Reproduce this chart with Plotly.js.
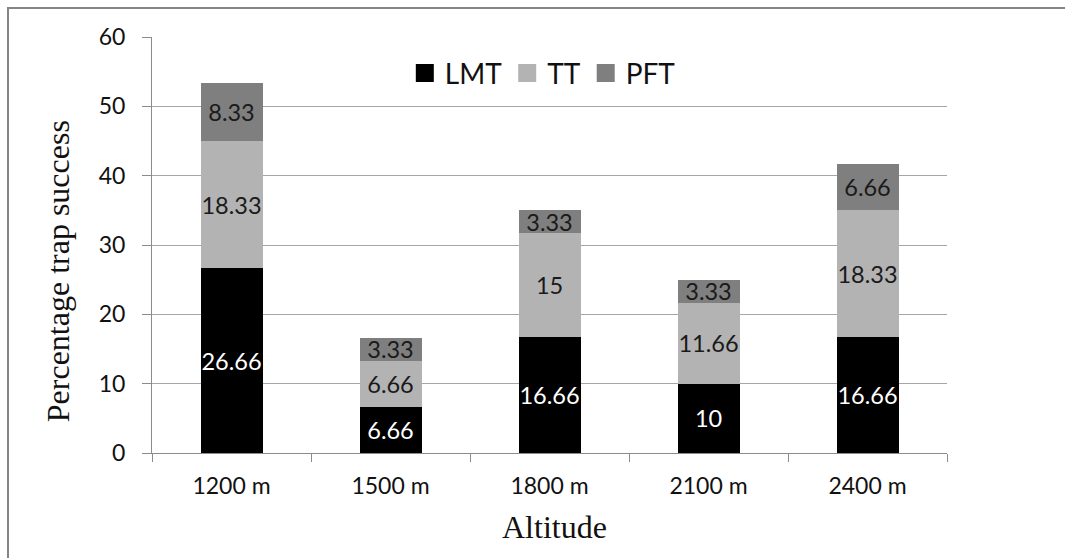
<!DOCTYPE html>
<html>
<head>
<meta charset="utf-8">
<script src="https://cdn.plot.ly/plotly-3.0.1.min.js"></script>
<style>
  html, body { margin: 0; padding: 0; background: #fff; overflow: hidden; }
  #wrap { position: relative; width: 1065px; height: 558px; overflow: hidden; }
  #chart { width: 1065px; height: 558px; }
  #frame { position: absolute; left: 7px; top: 7px; width: 1058px; height: 551px;
           border-top: 2px solid #858585; border-left: 2px solid #858585; box-sizing: border-box; pointer-events: none; }
</style>
</head>
<body>
<div id="wrap">
  <div id="chart"></div>
  <div id="frame"></div>
</div>
<script>
const categories = ['1200 m', '1500 m', '1800 m', '2100 m', '2400 m'];
const lmt = [26.66, 6.66, 16.66, 10, 16.66];
const tt  = [18.33, 6.66, 15, 11.66, 18.33];
const pft = [8.33, 3.33, 3.33, 3.33, 6.66];
const yTicks = [0, 10, 20, 30, 40, 50, 60];

const FONT = 'Lato, "Open Sans", sans-serif';
const SERIF = '"Liberation Serif", "DejaVu Serif", serif';

function seg(name, vals, color, txtColor) {
  return {
    type: 'bar', name: name, x: categories, y: vals,
    text: vals.map(v => String(v)),
    textposition: 'inside', insidetextanchor: 'middle', textangle: 0,
    constraintext: 'none',
    insidetextfont: { family: FONT, size: 23.5, color: txtColor },
    marker: { color: color, line: { width: 0 } },
    hoverinfo: 'skip'
  };
}

const data = [
  seg('LMT', lmt, '#000000', '#ffffff'),
  seg('TT', tt, '#b3b3b3', '#1a1a1a'),
  seg('PFT', pft, '#7f7f7f', '#1a1a1a')
];

const layout = {
  width: 1065, height: 558,
  margin: { l: 152, r: 118, t: 37, b: 105 },
  paper_bgcolor: '#fff', plot_bgcolor: '#fff',
  barmode: 'stack', bargap: 0.61,
  showlegend: true,
  legend: {
    orientation: 'h', x: 0.318, xanchor: 'left', y: 0.913, yanchor: 'middle',
    font: { family: FONT, size: 28, color: '#111' },
    bgcolor: 'rgba(0,0,0,0)', traceorder: 'normal'
  },
  xaxis: {
    type: 'category', showgrid: false, zeroline: false,
    showline: true, linecolor: '#8c8c8c', linewidth: 1,
    ticks: 'outside', tickson: 'boundaries', ticklen: 8, tickcolor: '#8c8c8c',
    ticklabelstandoff: 12,
    tickfont: { family: FONT, size: 23, color: '#111' }
  },
  yaxis: {
    range: [0, 60], tickvals: yTicks, ticktext: yTicks.map(String),
    showgrid: true, gridcolor: '#a6a6a6', gridwidth: 1, zeroline: false,
    showline: true, linecolor: '#8c8c8c', linewidth: 1,
    ticks: 'outside', ticklen: 9, tickcolor: '#8c8c8c',
    ticklabelstandoff: 12,
    tickfont: { family: FONT, size: 23, color: '#111' }
  },
  annotations: [
    { text: 'Percentage trap success', xref: 'paper', yref: 'paper',
      x: -0.118, y: 0.4375, xanchor: 'center', yanchor: 'middle', textangle: -90,
      showarrow: false, font: { family: SERIF, size: 32, color: '#111' } },
    { text: 'Altitude', xref: 'paper', yref: 'paper',
      x: 0.506, y: -0.178, xanchor: 'center', yanchor: 'middle',
      showarrow: false, font: { family: SERIF, size: 32, color: '#111' } }
  ]
};

Plotly.newPlot('chart', data, layout, { displayModeBar: false, staticPlot: true }).then(function () {
  document.querySelectorAll('.legendpoints path').forEach(function (p) {
    p.setAttribute('d', 'M9,9H-9V-9H9Z');
  });
});
</script>
</body>
</html>
